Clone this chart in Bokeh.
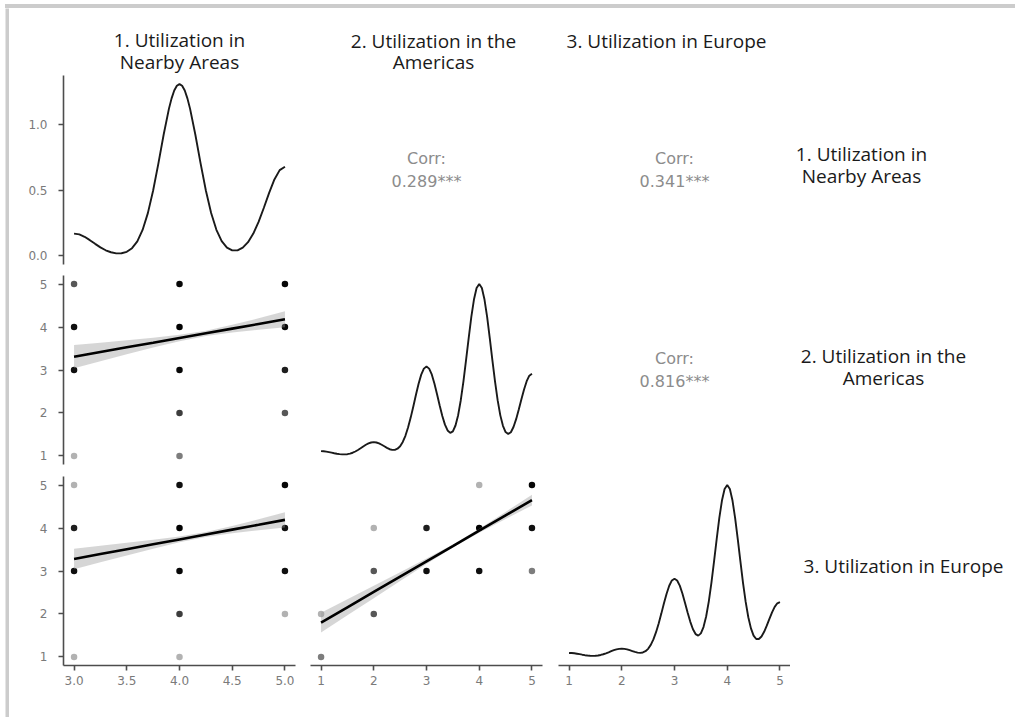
from bokeh.plotting import figure
from bokeh.layouts import row, column
from bokeh.models import Range1d, FixedTicker, PrintfTickFormatter, ColumnDataSource, Spacer, Div
from bokeh.core.properties import value
from bokeh.embed import file_html
from bokeh.resources import INLINE

HEAD_FONT = "Open Sans"
NUM_FONT = "DejaVu Sans"

# ---------------- data ----------------
var_labels = [["1. Utilization in", "Nearby Areas"],
              ["2. Utilization in the", "Americas"],
              ["3. Utilization in Europe"]]
corr_12 = "0.289***"
corr_13 = "0.341***"
corr_23 = "0.816***"

nearby_ticks = [3.0, 3.5, 4.0, 4.5, 5.0]
likert_ticks = [1, 2, 3, 4, 5]
density_ticks = [0.0, 0.5, 1.0]

# density of 1. Nearby Areas
dens1_x = [3.00, 3.05, 3.10, 3.15, 3.20, 3.25, 3.30, 3.35, 3.40, 3.45, 3.50, 3.55, 3.60, 3.65,
           3.70, 3.75, 3.80, 3.85, 3.90, 3.925, 3.95, 3.975, 4.00, 4.025, 4.05, 4.075, 4.10,
           4.15, 4.20, 4.25, 4.30, 4.35, 4.40, 4.45, 4.50, 4.55, 4.60, 4.65, 4.70, 4.75, 4.80,
           4.85, 4.90, 4.95, 5.00]
dens1_y = [0.170, 0.164, 0.146, 0.120, 0.092, 0.065, 0.043, 0.028, 0.019, 0.020, 0.031, 0.059,
           0.111, 0.198, 0.326, 0.499, 0.706, 0.926, 1.123, 1.201, 1.261, 1.297, 1.310, 1.297,
           1.261, 1.201, 1.123, 0.926, 0.706, 0.499, 0.327, 0.199, 0.113, 0.063, 0.042, 0.042,
           0.063, 0.105, 0.170, 0.259, 0.367, 0.481, 0.583, 0.654, 0.680]

# density of 2. Americas
dens2_x = [1.00, 1.05, 1.10, 1.15, 1.20, 1.25, 1.30, 1.35, 1.40, 1.45, 1.50, 1.55, 1.60, 1.65,
           1.70, 1.75, 1.80, 1.85, 1.90, 1.95, 2.00, 2.05, 2.10, 2.15, 2.20, 2.25, 2.30, 2.35,
           2.40, 2.45, 2.50, 2.55, 2.60, 2.65, 2.70, 2.75, 2.80, 2.85, 2.90, 2.95, 3.00, 3.05,
           3.10, 3.15, 3.20, 3.25, 3.30, 3.35, 3.40, 3.45, 3.50, 3.55, 3.60, 3.65, 3.70, 3.75,
           3.80, 3.85, 3.90, 3.95, 4.00, 4.05, 4.10, 4.15, 4.20, 4.25, 4.30, 4.35, 4.40, 4.45,
           4.50, 4.55, 4.60, 4.65, 4.70, 4.75, 4.80, 4.85, 4.90, 4.95, 5.00]
dens2_y = [0.028, 0.027, 0.025, 0.022, 0.019, 0.0156, 0.0125, 0.0101, 0.0087, 0.0087, 0.010,
           0.0134, 0.0185, 0.0256, 0.0345, 0.0444, 0.055, 0.065, 0.073, 0.078, 0.080, 0.078,
           0.073, 0.065, 0.056, 0.047, 0.039, 0.035, 0.035, 0.042, 0.056, 0.081, 0.117, 0.165,
           0.223, 0.288, 0.356, 0.420, 0.473, 0.508, 0.520, 0.508, 0.474, 0.421, 0.359, 0.293,
           0.232, 0.182, 0.148, 0.134, 0.143, 0.177, 0.237, 0.324, 0.432, 0.557, 0.686, 0.809,
           0.910, 0.977, 1.000, 0.977, 0.910, 0.809, 0.686, 0.556, 0.432, 0.323, 0.236, 0.175,
           0.139, 0.128, 0.138, 0.168, 0.214, 0.270, 0.330, 0.387, 0.435, 0.467, 0.478]

# density of 3. Europe
dens3_x = [1.00, 1.05, 1.10, 1.15, 1.20, 1.25, 1.30, 1.35, 1.40, 1.45, 1.50, 1.55, 1.60, 1.65,
           1.70, 1.75, 1.80, 1.85, 1.90, 1.95, 2.00, 2.05, 2.10, 2.15, 2.20, 2.25, 2.30, 2.35,
           2.40, 2.45, 2.50, 2.55, 2.60, 2.65, 2.70, 2.75, 2.80, 2.85, 2.90, 2.95, 3.00, 3.05,
           3.10, 3.15, 3.20, 3.25, 3.30, 3.35, 3.40, 3.45, 3.50, 3.55, 3.60, 3.65, 3.70, 3.75,
           3.80, 3.85, 3.90, 3.95, 4.00, 4.05, 4.10, 4.15, 4.20, 4.25, 4.30, 4.35, 4.40, 4.45,
           4.50, 4.55, 4.60, 4.65, 4.70, 4.75, 4.80, 4.85, 4.90, 4.95, 5.00]
dens3_y = [0.023, 0.0225, 0.021, 0.0187, 0.016, 0.0129, 0.010, 0.0081, 0.0067, 0.0062, 0.0067,
           0.0084, 0.0114, 0.0155, 0.021, 0.0267, 0.033, 0.039, 0.044, 0.047, 0.048, 0.047,
           0.044, 0.039, 0.034, 0.029, 0.025, 0.0235, 0.026, 0.033, 0.047, 0.070, 0.102, 0.144,
           0.195, 0.252, 0.312, 0.368, 0.414, 0.445, 0.455, 0.445, 0.415, 0.369, 0.314, 0.257,
           0.204, 0.161, 0.133, 0.124, 0.137, 0.174, 0.235, 0.322, 0.431, 0.556, 0.686, 0.809,
           0.910, 0.977, 1.000, 0.977, 0.910, 0.808, 0.686, 0.556, 0.430, 0.320, 0.231, 0.166,
           0.124, 0.104, 0.104, 0.119, 0.146, 0.182, 0.221, 0.259, 0.291, 0.312, 0.319]

# scatter: Nearby (x) vs Americas (y), n = number of overlapping answers
s21_x = [3, 3, 3, 3, 4, 4, 4, 4, 4, 5, 5, 5, 5]
s21_y = [5, 4, 3, 1, 5, 4, 3, 2, 1, 5, 4, 3, 2]
s21_n = [3, 8, 8, 1, 10, 15, 10, 4, 2, 10, 10, 6, 3]

# scatter: Nearby (x) vs Europe (y)
s31_x = [3, 3, 3, 3, 4, 4, 4, 4, 4, 5, 5, 5, 5]
s31_y = [5, 4, 3, 1, 5, 4, 3, 2, 1, 5, 4, 3, 2]
s31_n = [1, 6, 8, 1, 8, 15, 10, 4, 1, 10, 8, 8, 1]

# scatter: Americas (x) vs Europe (y)
s32_x = [1, 1, 2, 2, 2, 3, 3, 4, 4, 4, 5, 5, 5]
s32_y = [1, 2, 2, 3, 4, 3, 4, 3, 4, 5, 3, 4, 5]
s32_n = [2, 1, 3, 3, 1, 8, 6, 8, 15, 1, 2, 8, 10]

# linear fits with confidence bands
fit21_x = [3.0, 3.25, 3.5, 3.75, 4.0, 4.25, 4.5, 4.75, 5.0]
fit21_y = [3.31, 3.419, 3.528, 3.636, 3.745, 3.854, 3.963, 4.071, 4.18]
fit21_lo = [3.040, 3.203, 3.364, 3.521, 3.671, 3.793, 3.874, 3.937, 3.995]
fit21_hi = [3.580, 3.635, 3.692, 3.751, 3.819, 3.915, 4.052, 4.205, 4.365]

fit31_x = [3.0, 3.25, 3.5, 3.75, 4.0, 4.25, 4.5, 4.75, 5.0]
fit31_y = [3.28, 3.394, 3.508, 3.621, 3.735, 3.849, 3.963, 4.076, 4.19]
fit31_lo = [3.040, 3.201, 3.361, 3.517, 3.667, 3.791, 3.878, 3.948, 4.010]
fit31_hi = [3.520, 3.587, 3.655, 3.725, 3.803, 3.907, 4.048, 4.204, 4.370]

fit32_x = [1.0, 1.5, 2.0, 2.5, 3.0, 3.5, 4.0, 4.5, 5.0]
fit32_y = [1.80, 2.156, 2.513, 2.869, 3.225, 3.581, 3.938, 4.294, 4.65]
fit32_lo = [1.570, 1.969, 2.368, 2.766, 3.161, 3.546, 3.892, 4.212, 4.527]
fit32_hi = [2.030, 2.343, 2.658, 2.972, 3.289, 3.616, 3.984, 4.376, 4.773]

# ---------------- layout geometry (screen px) ----------------
FW, FH = 232, 189
COL_LEFT = [54, 0, 0]
COL_RIGHT = [15, 16, 0]
ROW_BOTTOM = [11, 12, 52]
COL_X0 = [9, 310, 558, 790]      # screen x where each column figure starts
LABEL_W = 225
ROW_Y0 = [75, 275, 476]          # screen y where each row figure starts
HEAD_Y0 = 8
HEADER_H = 67

AXIS_COL = "#4d4d4d"
TICK_LABEL_COL = "#7a7a7a"


def style_axis(ax, ticks, fmt=None, standoff=6):
    ax.ticker = FixedTicker(ticks=ticks)
    if fmt:
        ax.formatter = PrintfTickFormatter(format=fmt)
    ax.axis_line_color = AXIS_COL
    ax.axis_line_width = 1.6
    ax.major_tick_line_color = AXIS_COL
    ax.major_tick_line_width = 1.6
    ax.major_tick_out = 5
    ax.major_tick_in = 0
    ax.minor_tick_line_color = None
    ax.major_label_text_font = NUM_FONT
    ax.major_label_text_font_size = "12px"
    ax.major_label_text_color = TICK_LABEL_COL
    ax.major_label_standoff = standoff


def base_fig(w, h, xr, yr, bl=0, br=0, bb=0, xloc=None, yloc=None, bg="white"):
    p = figure(frame_width=w, frame_height=h, x_range=xr, y_range=yr,
               x_axis_location=xloc, y_axis_location=yloc,
               toolbar_location=None, output_backend="svg",
               min_border_left=bl, min_border_right=br,
               min_border_top=0, min_border_bottom=bb)
    p.outline_line_color = None
    p.grid.visible = False
    p.background_fill_color = bg
    p.border_fill_color = bg
    return p


def panel(ci, ri, xr, yr, left=False, bottom=False):
    return base_fig(FW, FH, xr, yr, COL_LEFT[ci], COL_RIGHT[ci], ROW_BOTTOM[ri],
                    "below" if bottom else None, "left" if left else None)


def text_fig(x0, x1, y0, y1):
    # ranges in screen pixels (y reversed) so strip labels sit where they belong
    return base_fig(x1 - x0, y1 - y0, Range1d(x0, x1), Range1d(y1, y0))


def add_text(p, xs, ys, texts, size, color, font):
    p.text(x=xs, y=ys, text=texts, text_font=value(font), text_font_size=value(size),
           text_color=color, text_align="center", text_baseline="middle")


def dens_range(ys):
    m = max(ys)
    return Range1d(-0.05 * m, 1.05 * m)


x_nearby = Range1d(2.9, 5.1)
x_am = Range1d(0.8, 5.2)
x_eu = Range1d(0.8, 5.2)
y_likert2 = Range1d(0.8, 5.2)
y_likert3 = Range1d(0.8, 5.2)


def add_density(p, xs, ys):
    p.line(xs, ys, line_color="#1a1a1a", line_width=1.9)


def add_scatter(p, xs, ys, ns, fx, fy, flo, fhi):
    alphas = [min(1.0, 1 - 0.7 ** n) for n in ns]
    src = ColumnDataSource(dict(x=xs, y=ys, a=alphas))
    p.scatter("x", "y", source=src, size=6.5, fill_color="black", line_color=None,
              fill_alpha="a")
    p.varea(x=fx, y1=flo, y2=fhi, fill_color="#999999", fill_alpha=0.4)
    p.line(fx, fy, line_color="black", line_width=2.6)


def corr_fig(ci, ri, val):
    p = base_fig(FW, FH, Range1d(0, 1), Range1d(0, 1), COL_LEFT[ci], COL_RIGHT[ci], ROW_BOTTOM[ri])
    add_text(p, [0.5, 0.5], [0.561, 0.439], ["Corr:", val], "16px", "#8c8c8c", NUM_FONT)
    return p


# ---------------- panels ----------------
p11 = panel(0, 0, x_nearby, dens_range(dens1_y), left=True)
add_density(p11, dens1_x, dens1_y)
style_axis(p11.yaxis[0], density_ticks, "%.1f", standoff=11)

c12 = corr_fig(1, 0, corr_12)
c13 = corr_fig(2, 0, corr_13)

p21 = panel(0, 1, x_nearby, y_likert2, left=True)
add_scatter(p21, s21_x, s21_y, s21_n, fit21_x, fit21_y, fit21_lo, fit21_hi)
style_axis(p21.yaxis[0], likert_ticks, standoff=11)

p22 = panel(1, 1, x_am, dens_range(dens2_y))
add_density(p22, dens2_x, dens2_y)

c23 = corr_fig(2, 1, corr_23)

p31 = panel(0, 2, x_nearby, y_likert3, left=True, bottom=True)
add_scatter(p31, s31_x, s31_y, s31_n, fit31_x, fit31_y, fit31_lo, fit31_hi)
style_axis(p31.yaxis[0], likert_ticks, standoff=11)
style_axis(p31.xaxis[0], nearby_ticks, "%.1f", standoff=5)

p32 = panel(1, 2, x_am, y_likert3, bottom=True)
add_scatter(p32, s32_x, s32_y, s32_n, fit32_x, fit32_y, fit32_lo, fit32_hi)
style_axis(p32.xaxis[0], likert_ticks, standoff=5)

p33 = panel(2, 2, x_eu, dens_range(dens3_y), bottom=True)
add_density(p33, dens3_x, dens3_y)
style_axis(p33.xaxis[0], likert_ticks, standoff=5)

# ---------------- strip labels ----------------
HEAD_COL = "#1a1a1a"
HS = "19px"
h1 = text_fig(COL_X0[0], COL_X0[1], HEAD_Y0, HEAD_Y0 + HEADER_H)
add_text(h1, [179, 179], [39, 61], var_labels[0], HS, HEAD_COL, HEAD_FONT)
h2 = text_fig(COL_X0[1], COL_X0[2], HEAD_Y0, HEAD_Y0 + HEADER_H)
add_text(h2, [433, 433], [40, 61], var_labels[1], HS, HEAD_COL, HEAD_FONT)
h3 = text_fig(COL_X0[2], COL_X0[3], HEAD_Y0, HEAD_Y0 + HEADER_H)
add_text(h3, [666], [40], var_labels[2], HS, HEAD_COL, HEAD_FONT)
h4 = text_fig(COL_X0[3], COL_X0[3] + LABEL_W, HEAD_Y0, HEAD_Y0 + HEADER_H)

row_ext = [(ROW_Y0[i], ROW_Y0[i] + FH + ROW_BOTTOM[i]) for i in range(3)]
r1 = text_fig(COL_X0[3], COL_X0[3] + LABEL_W, *row_ext[0])
add_text(r1, [861, 861], [153.5, 175.5], var_labels[0], HS, HEAD_COL, HEAD_FONT)
r2 = text_fig(COL_X0[3], COL_X0[3] + LABEL_W, *row_ext[1])
add_text(r2, [883, 883], [355, 377], var_labels[1], HS, HEAD_COL, HEAD_FONT)
r3 = text_fig(COL_X0[3], COL_X0[3] + LABEL_W, *row_ext[2])
add_text(r3, [903], [565], var_labels[2], HS, HEAD_COL, HEAD_FONT)

# ---------------- screenshot frame bars ----------------
grid = column(
    row(h1, h2, h3, h4),
    row(p11, c12, c13, r1),
    row(p21, p22, c23, r2),
    row(p31, p32, p33, r3),
)
grid_w = (COL_X0[3] - COL_X0[0]) + LABEL_W
total_h = HEADER_H + sum(FH + b for b in ROW_BOTTOM)

top_bar = Div(text="", width=4 + grid_w, height=4, margin=0,
              styles={"background-color": "#cccccc"})
left_bar = base_fig(4, total_h, Range1d(0, 1), Range1d(0, 1), bg="#cccccc")

layout = column(
    Spacer(width=5 + 4 + grid_w, height=4),
    row(Spacer(width=5, height=4 + total_h),
        column(top_bar, row(left_bar, grid))),
)

open("out.html", "w").write(file_html(layout, INLINE))
